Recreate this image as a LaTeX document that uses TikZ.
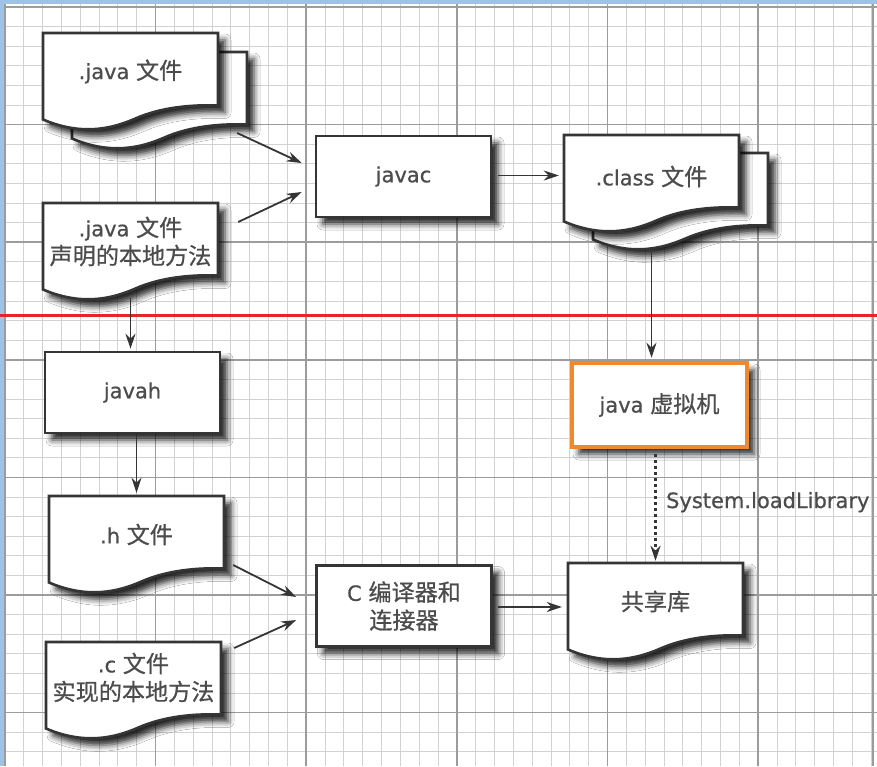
\documentclass[tikz,border=0pt]{standalone}
\usepackage{fontspec}
\setmainfont{DejaVu Sans}[FakeBold=0.7]
\newfontfamily\cjk{Noto Sans CJK SC}[Scale=1.1,FakeBold=0.7]
\usepackage{tikz}
\usetikzlibrary{arrows.meta,calc,shadows.blur}
\definecolor{gridMinor}{HTML}{D2D2D2}
\definecolor{gridMajor}{HTML}{9C9C9C}
\definecolor{frameBlue}{HTML}{9DC3E6}
\definecolor{vmOrange}{HTML}{F0892B}
\definecolor{inkGray}{HTML}{353535}
\definecolor{textGray}{HTML}{4C4C4C}
\definecolor{cutRed}{HTML}{E3262B}
\newcommand{\zh}[1]{{\cjk #1}}

\begin{document}
\begin{tikzpicture}[
        x=1pt,y=-1pt,
        every node/.style={font=\fontsize{21}{28}\selectfont,text=textGray},
        shade/.style={blur shadow={shadow xshift=7pt,shadow yshift=-7pt,
                      shadow blur radius=6pt,shadow opacity=85}},
        box/.style={rectangle,draw=inkGray,fill=white,line width=2.6pt,
                    minimum width=175pt,minimum height=81pt,align=center,shade},
        doc/.style={rectangle,minimum width=175pt,minimum height=85pt,align=center,yshift=4pt},
        docline/.style={draw=inkGray,fill=white,line width=2.6pt,line join=miter,shade},
        docpage/.pic={
          \path[docline] (-87.5,-42.5) -- (87.5,-42.5) -- (87.5,30)
            .. controls (60,29) and (30,32) .. (5,43)
            .. controls (-20,54) and (-50,60) .. (-87.5,44) -- cycle;
        },
        arr/.style={-{Stealth[length=15pt,width=10pt]},line width=1.8pt,draw=inkGray},
        dotarr/.style={arr,line width=2.6pt,dash pattern=on 3pt off 3pt}
      ]
        \useasboundingbox (0,0) rectangle (877,766);
        \fill[frameBlue] (0,0) rectangle (877,766);
        \fill[white] (5,4) rectangle (877,766);
        \foreach \i in {0,...,46}
          \draw[gridMinor,line width=1pt] ({5+18.83*\i},4) -- ({5+18.83*\i},766);
        \foreach \j in {0,...,39}
          \draw[gridMinor,line width=1pt] (5,{7+19.6*\j}) -- (877,{7+19.6*\j});
        \foreach \i in {0,...,5}
          \draw[gridMajor,line width=1.6pt] ({5+150.6*\i},4) -- ({5+150.6*\i},766);
        \foreach \j in {0,...,6}
          \draw[gridMajor,line width=1.6pt] (5,{7+117.6*\j}) -- (877,{7+117.6*\j});
        \draw[gridMajor,line width=1.8pt] (873,4) -- (873,766);
        \draw[cutRed,line width=3pt] (0,315) -- (877,315);

        \pic at (159.5,94.5) {docpage};
        \node[doc] (javaBack) at (159.5,94.5) {};
        \pic at (130.5,75.5) {docpage};
        \node[doc] (javaFile) at (130.5,75.5) {.java \zh{文件}};
        \pic at (130.5,245.5) {docpage};
        \node[doc] (javaNative) at (130.5,245.5) {.java \zh{文件}\\\zh{声明的本地方法}};
        \node[box] (javac) at (403.5,176.5) {javac};
        \pic at (680.5,195.5) {docpage};
        \node[doc] (classBack) at (680.5,195.5) {};
        \pic at (651.5,177.5) {docpage};
        \node[doc,yshift=-3pt] (classFile) at (651.5,177.5) {.class \zh{文件}};
        \node[box] (javah) at (132.5,392.5) {javah};
        \pic at (136.5,538.5) {docpage};
        \node[doc] (hFile) at (136.5,538.5) {.h \zh{文件}};
        \pic at (133.5,684.5) {docpage};
        \node[doc,yshift=3pt] (cFile) at (133.5,684.5) {.c \zh{文件}\\\zh{实现的本地方法}};
        \node[box] (cComp) at (404,606) {C \zh{编译器和}\\\zh{连接器}};
        \node[box,draw=vmOrange,line width=4.5pt,minimum height=84pt] (jvm) at (659.5,405) {java \zh{虚拟机}};
        \pic at (655.5,605.5) {docpage};
        \node[doc] (sharedLib) at (655.5,605.5) {\zh{共享库}};

        \draw[arr] ($(javaBack.east)+(-10,42.5)$) -- ($(javac.west)+(-13,-13.5)$);
        \draw[arr] ($(javaNative.east)+(20,-19.5)$) -- ($(javac.west)+(-13,15.5)$);
        \draw[arr] ($(javac.east |- classFile.west)+(6,-1)$) -- ($(classFile.west)+(-5,-1)$);
        \draw[arr] ($(classFile |- classBack.south)+(0,14)$) -- ($(classFile |- jvm.north)+(0,-3)$);
        \draw[arr] ($(javaNative.south)+(0,14)$) -- ($(javaNative.south |- javah.north)+(0,-2)$);
        \draw[arr] ($(hFile.north |- javah.south)+(0,2)$) -- ($(hFile.north)+(0,1)$);
        \draw[arr] ($(hFile.east)+(9,30.5)$) -- ($(cComp.west)+(-19,-9)$);
        \draw[arr] ($(cFile.east)+(13,-29.5)$) -- ($(cComp.west)+(-19,14)$);
        \draw[arr] ($(cComp.east)+(5,1)$) -- ($(sharedLib.west |- cComp.east)+(-6,1)$);
        \draw[dotarr] ($(sharedLib.north |- jvm.south)+(0,5)$) -- ($(sharedLib.north)+(0,2)$)
          node[pos=0.45,anchor=west,xshift=6pt] {System.loadLibrary};
      \end{tikzpicture}
\end{document}
